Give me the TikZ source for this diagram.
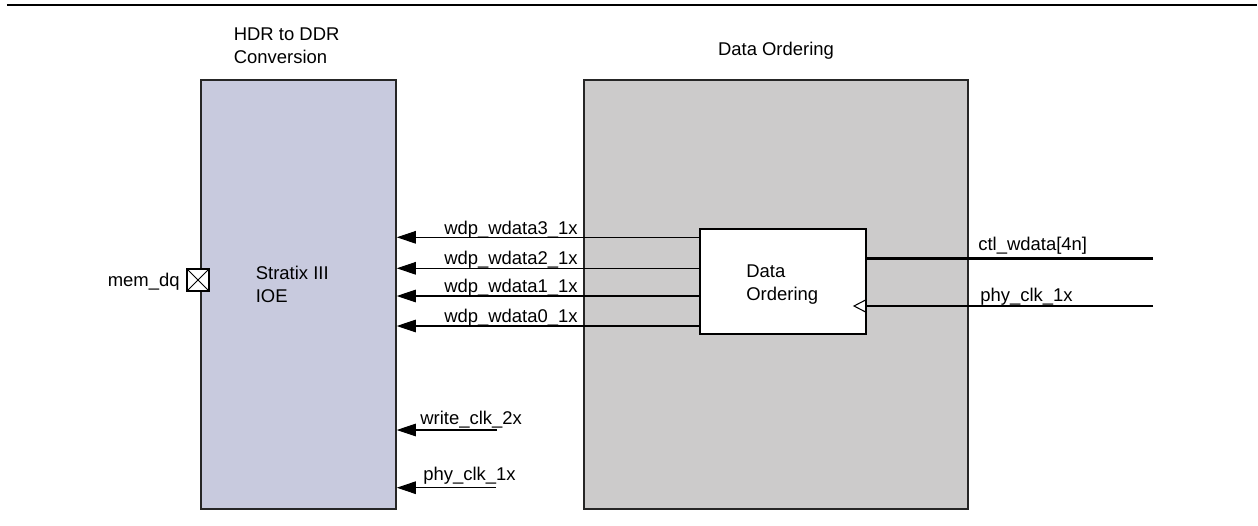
\documentclass[tikz,border=0pt]{standalone}
\usepackage{fontspec}
\setmainfont{Liberation Sans}
\usetikzlibrary{arrows.meta}

\definecolor{ioefill}{RGB}{200,202,222}
\definecolor{ordfill}{RGB}{204,203,203}

\begin{document}
\begin{tikzpicture}[
        block/.style={
            draw=black!85,
            line width=0.85pt,
            rectangle,
            minimum height=8.58cm
        },
        txt/.style={
            font=\fontsize{10.5}{13}\selectfont,
            inner sep=0pt,
            align=left
        },
        sig/.style={
            draw,
            line width=0.6pt,
            -{Triangle[length=3.8mm,width=2.5mm]}
        }
    ]
        \useasboundingbox (0,0) rectangle (25.16,-10.5);

        % Top rule
        \draw[line width=1.4pt] (0.14,-0.1) -- (25.14,-0.1);

        % Titles
        \node[txt, anchor=north west] (hdrtitle) at (4.67,-0.55) {HDR to DDR\\Conversion};
        \node[txt, anchor=base] (ordtitle) at (15.52,-1.1) {Data Ordering};

        % HDR to DDR block
        \node[block, fill=ioefill, minimum width=3.9cm] (ioe) at (5.97,-5.89) {};
        \node[txt, anchor=north west] (ioetext) at (5.11,-5.32) {Stratix III\\IOE};

        % mem_dq pin
        \node[draw, line width=0.6pt, fill=white, minimum size=0.44cm, inner sep=0pt] (pin) at (3.96,-5.6) {};
        \draw[line width=0.5pt] (pin.north west) -- (pin.south east)
                                (pin.north east) -- (pin.south west);
        \node[txt, anchor=base east] (memdq) at (3.6,-5.73) {mem\_dq};

        % Data Ordering block
        \node[block, fill=ordfill, minimum width=7.68cm] (ord) at (15.52,-5.89) {};
        \node[draw, line width=0.6pt, fill=white, minimum width=3.32cm, minimum height=2.1cm] (dob) at (15.66,-5.63) {};
        \node[txt, anchor=north west] (dobtext) at (14.92,-5.29) {Data\\Ordering};

        % Write data to IOE
        \draw[sig] (dob.west |- 0,-4.746) -- (ioe.east |- 0,-4.746);
        \draw[sig] (dob.west |- 0,-5.366) -- (ioe.east |- 0,-5.366);
        \draw[sig] (dob.west |- 0,-5.92) -- (ioe.east |- 0,-5.92);
        \draw[sig] (dob.west |- 0,-6.52) -- (ioe.east |- 0,-6.52);
        \node[txt, anchor=base east] (wd3) at (11.56,-4.68) {wdp\_wdata3\_1x};
        \node[txt, anchor=base east] (wd2) at (11.56,-5.29) {wdp\_wdata2\_1x};
        \node[txt, anchor=base east] (wd1) at (11.56,-5.85) {wdp\_wdata1\_1x};
        \node[txt, anchor=base east] (wd0) at (11.56,-6.44) {wdp\_wdata0\_1x};

        % Inputs to Data Ordering
        \coordinate (ctlin) at (23.06,-5.166);
        \coordinate (clkin) at (23.06,-6.12);
        \draw[line width=2pt] (ctlin) -- (dob.east |- ctlin);
        \draw[line width=0.6pt] (clkin) -- (dob.east |- clkin);
        \draw[line width=0.6pt] (dob.east |- 0,-5.99) -- (17.08,-6.12) -- (dob.east |- 0,-6.25);
        \node[txt, anchor=base west] (ctllabel) at (19.56,-5.01) {ctl\_wdata[4n]};
        \node[txt, anchor=base west] (clklabel) at (19.6,-6.03) {phy\_clk\_1x};

        % Clocks to IOE
        \coordinate (wclk) at (9.94,-8.6);
        \coordinate (pclk) at (9.92,-9.754);
        \draw[sig] (wclk) -- (ioe.east |- wclk);
        \draw[sig] (pclk) -- (ioe.east |- pclk);
        \node[txt, anchor=base west] (wclklabel) at (8.4,-8.48) {write\_clk\_2x};
        \node[txt, anchor=base west] (pclklabel) at (8.46,-9.61) {phy\_clk\_1x};
    \end{tikzpicture}
\end{document}
